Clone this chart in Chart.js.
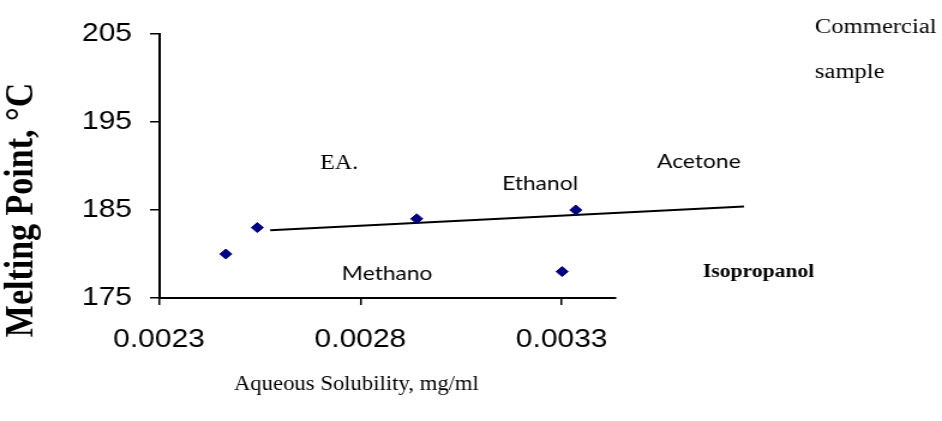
<!DOCTYPE html>
<html>
<head>
<meta charset="utf-8">
<script src="https://cdn.jsdelivr.net/npm/chart.js@4.4.0/dist/chart.umd.min.js"></script>
<style>
html, body { margin: 0; padding: 0; background: #fff; overflow: hidden; }
/* the source picture is stretched sideways ~1.2x, so draw narrow and widen it */
#wrap { width: 785px; height: 421px; transform: scale(1.2, 1); transform-origin: 0 0; }
</style>
</head>
<body>
<div id="wrap"><canvas id="meltChart" width="785" height="421"></canvas></div>
<script>
// samples: aqueous solubility (mg/ml) vs melting point (C)
const solubility = [0.002466, 0.002544, 0.00294, 0.003301, 0.003335];
const meltingPoint = [180.0, 183.0, 184.0, 178.0, 185.0];

// trend line ends (it runs on past the axis)
const trendX = [0.002576, 0.003753];
const trendY = [182.7, 185.4];

const xTicks = [0.0023, 0.0028, 0.0033];
const yTicks = [175, 185, 195, 205];

const labelTexts = ["EA.", "Ethanol", "Acetone", "Methano", "Isopropanol", "Commercial", "sample"];

// where the free text sits, in data units (left edge, baseline)
const notePlace = [
  { x: 0.0027,   y: 189.66, font: '20px "Liberation Serif"' },
  { x: 0.003152, y: 187.27, font: '19px Lato' },
  { x: 0.003537, y: 189.77, font: '19px Lato' },
  { x: 0.002754, y: 177.05, font: '19px Lato' },
  { x: 0.003651, y: 177.39, font: 'bold 18px "Liberation Serif"' },
  { x: 0.003929, y: 205.11, font: '20.5px "Liberation Serif"' },
  { x: 0.003929, y: 200.0,  font: '20.5px "Liberation Serif"' }
];

const notesPlugin = {
  id: "notes",
  afterDraw(chart) {
    const ctx = chart.ctx;
    const xs = chart.scales.x, ys = chart.scales.y;
    ctx.save();
    ctx.fillStyle = "#000";
    ctx.textAlign = "left";
    ctx.textBaseline = "alphabetic";
    labelTexts.forEach((t, i) => {
      ctx.font = notePlace[i].font;
      ctx.fillText(t, xs.getPixelForValue(notePlace[i].x), ys.getPixelForValue(notePlace[i].y));
    });

    // x title, a bit taller and narrower than plain serif
    ctx.save();
    ctx.textAlign = "center";
    ctx.font = '21px "Liberation Serif"';
    ctx.translate(297, 390);
    ctx.scale(0.9, 1);
    ctx.fillText("Aqueous Solubility, mg/ml", 0, 0);
    ctx.restore();

    // y title
    ctx.textAlign = "center";
    ctx.translate(18, 210);
    ctx.rotate(-Math.PI / 2);
    ctx.textBaseline = "middle";
    ctx.font = 'bold 34px "Liberation Serif"';
    ctx.fillText("Melting Point, \u00B0C", 0, 0);
    ctx.restore();
  }
};

const tickFont = { family: '"Liberation Sans", Arial, sans-serif', size: 25 };

new Chart(document.getElementById("meltChart"), {
  type: "scatter",
  data: {
    datasets: [
      {
        data: solubility.map((v, i) => ({ x: v, y: meltingPoint[i] })),
        pointStyle: "rectRot",
        pointRadius: 5,
        backgroundColor: "#00007f",
        borderColor: "#00007f",
        borderWidth: 1
      },
      {
        data: trendX.map((v, i) => ({ x: v, y: trendY[i] })),
        showLine: true,
        pointRadius: 0,
        borderColor: "#000",
        borderWidth: 1.8,
        clip: false
      }
    ]
  },
  options: {
    responsive: false,
    animation: false,
    layout: { padding: { left: 0, top: 34, right: 272, bottom: 0 } },
    plugins: { legend: { display: false }, tooltip: { enabled: false } },
    scales: {
      x: {
        type: "linear",
        min: 0.0023,
        max: 0.003434,
        afterBuildTicks: s => { s.ticks = xTicks.map(v => ({ value: v })); },
        afterFit: s => { s.height = 123; },
        ticks: {
          callback: v => v.toFixed(4),
          color: "#000",
          font: tickFont,
          padding: 20,
          maxRotation: 0,
          autoSkip: false
        },
        grid: { drawOnChartArea: false, tickLength: 7, color: "#000", lineWidth: 1.5 },
        border: { color: "#000", width: 2 }
      },
      y: {
        min: 175,
        max: 205,
        afterBuildTicks: s => { s.ticks = yTicks.map(v => ({ value: v })); },
        afterFit: s => { s.width = 132.5; },
        ticks: { color: "#000", font: tickFont, padding: 15 },
        grid: { drawOnChartArea: false, tickLength: 7.5, color: "#000", lineWidth: 1.5 },
        border: { color: "#000", width: 2 }
      }
    }
  },
  plugins: [notesPlugin]
});
</script>
</body>
</html>
